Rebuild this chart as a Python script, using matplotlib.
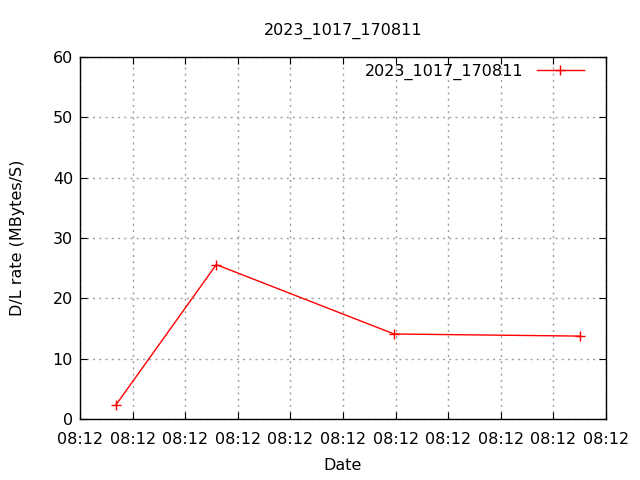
import matplotlib
matplotlib.use("Agg")
import matplotlib.pyplot as plt
import numpy as np

# time offsets (seconds within 08:12) and download rates
times = [0.68, 2.59, 5.97, 9.51]
rates = [2.3, 25.6, 14.1, 13.75]
tick_pos = list(range(0, 11))
tick_labels = ["08:12"] * 11
run_name = "2023_1017_170811"

plt.rcParams['font.family'] = ['DejaVu Sans']
plt.rcParams['font.size'] = 11.5

fig = plt.figure(figsize=(6.4, 4.8), dpi=100)
ax = fig.add_axes([0.125, 0.127, 0.822, 0.754])

ax.plot(times, rates, color='red', linewidth=1, marker='+', markersize=7,
        markeredgewidth=1, label=run_name)

ax.set_xlim(0, 10)
ax.set_ylim(0, 60)
ax.set_xticks(tick_pos)
ax.set_xticklabels(tick_labels)
ax.set_yticks(range(0, 61, 10))
ax.tick_params(direction='in', top=True, right=True, length=5, pad=5)
ax.tick_params(axis='x', pad=9)
ax.grid(True, color='#a0a0a0', linestyle=(0, (1.5, 3)), linewidth=1)
for s in ax.spines.values():
    s.set_linewidth(1)

ax.set_title(run_name, fontsize=11.5, pad=16)
ax.set_xlabel("Date", labelpad=8)
ax.set_ylabel("D/L rate (MBytes/S)", labelpad=20)
ax.legend(loc='upper right', bbox_to_anchor=(0.971, 1.0), borderaxespad=0,
          frameon=False, markerfirst=False, handlelength=3.0)

fig.savefig("out.png")
